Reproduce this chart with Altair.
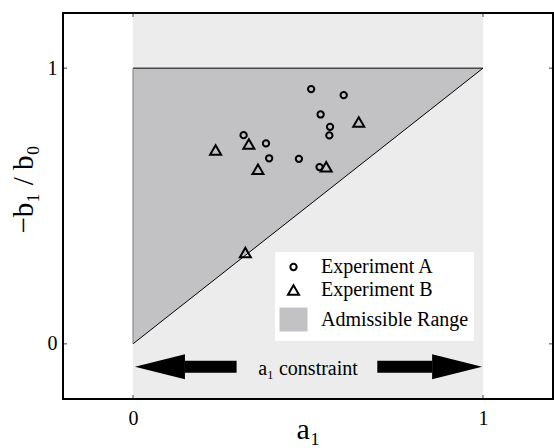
import altair as alt
import pandas as pd

# ---- data ----
circ_x = [0.509, 0.602, 0.536, 0.563, 0.561, 0.316, 0.380, 0.389, 0.474, 0.533]
circ_y = [0.924, 0.902, 0.832, 0.787, 0.756, 0.757, 0.727, 0.673, 0.671, 0.641]
tri_x = [0.645, 0.236, 0.331, 0.357, 0.552, 0.321]
tri_y = [0.805, 0.703, 0.725, 0.633, 0.642, 0.331]

series_names = ["Experiment A", "Experiment B", "Admissible Range"]

band_x0 = [0.0]
band_x1 = [1.0]
region_x = [0.0, 1.0]
region_top = [1.0, 1.0]
region_bottom = [0.0, 1.0]

edge_x = [0.0, 0.0, 0.0]
edge_y = [0.0, 1.0, 0.0]
edge_x2 = [1.0, 1.0, 0.0]
edge_y2 = [1.0, 1.0, 1.0]
edge_kind = ["diag", "top", "left"]

tick_vals = [0.0, 1.0]

arrow_y = -0.083
left_tip, left_base, left_end = 0.006, 0.148, 0.296
right_start, right_base, right_tip = 0.698, 0.855, 0.997
constraint_label = "a\u2081 constraint"

W, H = 490, 386
FONT = "Liberation Serif"
dom = [-0.2, 1.2]


def xsc():
    return alt.Scale(domain=dom, nice=False, zero=False)


def ysc():
    return alt.Scale(domain=dom, nice=False, zero=False)


X_AX = alt.Axis(
    values=tick_vals, format="d", title="a\u2081", grid=False, domain=False, ticks=False,
    labelFont=FONT, labelFontSize=20, labelColor="black", labelPadding=9,
    titleFont=FONT, titleFontSize=30, titleFontWeight="normal", titleColor="black",
    titleX=245, titleY=39, titleBaseline="alphabetic", titleAlign="center",
)
Y_AX = alt.Axis(
    values=tick_vals, format="d", title="\u2212b\u2081 / b\u2080", grid=False, domain=False, ticks=False,
    labelFont=FONT, labelFontSize=20, labelColor="black", labelPadding=6,
    titleFont=FONT, titleFontSize=29, titleFontWeight="normal", titleColor="black",
    titleAngle=270, titleX=-31, titleY=176, titleBaseline="alphabetic", titleAlign="center",
)


def X(f):
    return alt.X(f, scale=xsc(), axis=X_AX)


def Y(f):
    return alt.Y(f, scale=ysc(), axis=Y_AX)


# background band 0..1
band = alt.Chart(pd.DataFrame({"x0": band_x0, "x1": band_x1})).mark_rect(
    color="#ececec"
).encode(x=X("x0:Q"), x2="x1:Q")

# admissible region
region = alt.Chart(pd.DataFrame({"x": region_x, "top": region_top, "bottom": region_bottom})).mark_area(
    color="#c2c2c5", opacity=1
).encode(x=X("x:Q"), y=Y("top:Q"), y2="bottom:Q")

edges = alt.Chart(pd.DataFrame({"x": edge_x, "y": edge_y, "x2": edge_x2, "y2": edge_y2, "kind": edge_kind})).mark_rule().encode(
    x=X("x:Q"),
    y=Y("y:Q"),
    x2="x2:Q",
    y2="y2:Q",
    color=alt.Color("kind:N", scale=alt.Scale(domain=["diag", "top", "left"], range=["black", "black", "#7a7a7a"]), legend=None),
    strokeWidth=alt.StrokeWidth("kind:N", scale=alt.Scale(domain=["diag", "top", "left"], range=[1, 1, 1.5]), legend=None),
)

# points
pts = pd.DataFrame({
    "x": circ_x + tri_x,
    "y": circ_y + tri_y,
    "series": [series_names[0]] * len(circ_x) + [series_names[1]] * len(tri_x),
})
SQ = "M-1.12,-0.96L1.12,-0.96L1.12,0.96L-1.12,0.96Z"


def LEG():
    return alt.Legend(
        title=None, orient="none", legendX=212, legendY=239,
        fillColor="white", padding=5,
        labelFont=FONT, labelFontSize=20, labelColor="black", labelOffset=14, labelLimit=400,
        rowPadding=3, symbolStrokeWidth=2,
    )


points = alt.Chart(pts).mark_point(filled=True, opacity=1, strokeWidth=2).encode(
    x=X("x:Q"),
    y=Y("y:Q"),
    shape=alt.Shape("series:N", scale=alt.Scale(domain=series_names, range=["circle", "triangle-up", SQ]), legend=LEG()),
    fill=alt.Fill("series:N", scale=alt.Scale(domain=series_names, range=["transparent", "transparent", "#c2c2c5"]), legend=LEG()),
    stroke=alt.Stroke("series:N", scale=alt.Scale(domain=series_names, range=["black", "black", "transparent"]), legend=LEG()),
    size=alt.Size("series:N", scale=alt.Scale(type="ordinal", domain=series_names, range=[40, 121, 625]), legend=LEG()),
)

# arrows
shafts = alt.Chart(pd.DataFrame({"x": [left_base, right_start], "x2": [left_end, right_base], "y": [arrow_y, arrow_y]})).mark_rule(
    color="black", strokeWidth=12, strokeCap="butt"
).encode(x=X("x:Q"), x2="x2:Q", y=Y("y:Q"))
head_left = alt.Chart(pd.DataFrame({"x": [(left_tip + left_base) / 2], "y": [arrow_y]})).mark_point(
    shape="M-1,0L1,-0.5L1,0.5Z", filled=True, color="black", opacity=1, size=2500, strokeWidth=0
).encode(x=X("x:Q"), y=Y("y:Q"))
head_right = alt.Chart(pd.DataFrame({"x": [(right_base + right_tip) / 2], "y": [arrow_y]})).mark_point(
    shape="M1,0L-1,-0.5L-1,0.5Z", filled=True, color="black", opacity=1, size=2500, strokeWidth=0
).encode(x=X("x:Q"), y=Y("y:Q"))

label = alt.Chart(pd.DataFrame({"x": [0.5], "y": [arrow_y], "t": [constraint_label]})).mark_text(
    font=FONT, fontSize=20, baseline="alphabetic", align="center", dy=8, color="black"
).encode(x=X("x:Q"), y=Y("y:Q"), text="t:N")

# inward ticks on all four sides
tick_df = pd.DataFrame({"v": tick_vals})
tb = alt.Chart(tick_df).mark_rule(color="#444", strokeWidth=1).encode(
    x=X("v:Q"), y=alt.value(H), y2=alt.value(H - 4))
tt = alt.Chart(tick_df).mark_rule(color="#444", strokeWidth=1).encode(
    x=X("v:Q"), y=alt.value(0), y2=alt.value(4))
tl = alt.Chart(tick_df).mark_rule(color="#444", strokeWidth=1).encode(
    y=Y("v:Q"), x=alt.value(0), x2=alt.value(4))
tr = alt.Chart(tick_df).mark_rule(color="#444", strokeWidth=1).encode(
    y=Y("v:Q"), x=alt.value(W), x2=alt.value(W - 4))

frame = alt.Chart(pd.DataFrame({"v": [0]})).mark_rect(filled=False, stroke="black", strokeWidth=2).encode(
    x=alt.value(0), x2=alt.value(W), y=alt.value(0), y2=alt.value(H))

chart = alt.layer(
    band, region, edges, points, shafts, head_left, head_right, label, tb, tt, tl, tr, frame
).properties(
    width=W, height=H,
    background="white",
    autosize=alt.AutoSizeParams(type="none"),
    padding={"left": 63, "top": 13, "right": 1, "bottom": 49},
).configure_view(
    stroke=None
)

chart.save("out.html", embed_options={"renderer": "svg", "actions": False})
